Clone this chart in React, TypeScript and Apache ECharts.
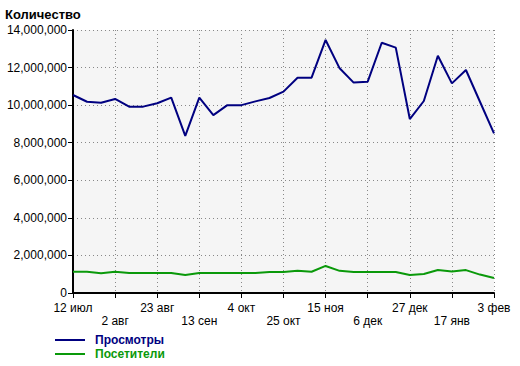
import React, { useEffect, useRef } from "react";
import * as echarts from "echarts";

const categories = [
  "12 июл", "19 июл", "26 июл", "2 авг", "9 авг", "16 авг", "23 авг", "30 авг",
  "6 сен", "13 сен", "20 сен", "27 сен", "4 окт", "11 окт", "18 окт", "25 окт",
  "1 ноя", "8 ноя", "15 ноя", "22 ноя", "29 ноя", "6 дек", "13 дек", "20 дек",
  "27 дек", "3 янв", "10 янв", "17 янв", "24 янв", "31 янв", "3 фев",
];

const views = [
  10540000, 10180000, 10130000, 10330000, 9920000, 9920000, 10100000, 10400000,
  8360000, 10400000, 9470000, 10000000, 10000000, 10200000, 10380000, 10720000,
  11460000, 11460000, 13470000, 11960000, 11200000, 11250000, 13320000, 13060000,
  9260000, 10220000, 12630000, 11160000, 11870000, 10180000, 8500000,
];

const visitors = [
  1130000, 1130000, 1050000, 1130000, 1070000, 1070000, 1070000, 1070000,
  960000, 1070000, 1070000, 1070000, 1070000, 1070000, 1120000, 1120000,
  1180000, 1130000, 1440000, 1180000, 1120000, 1120000, 1120000, 1120000,
  960000, 1010000, 1220000, 1150000, 1220000, 980000, 800000,
];

const yTicks = { min: 0, max: 14000000, interval: 2000000 };
const seriesNames = ["Просмотры", "Посетители"];
const title = "Количество";

const BLUE = "#000080";
const GREEN = "#0a990a";
const FONT = "Arial, 'Liberation Sans', sans-serif";

function legendFor(name: string, color: string, top: number) {
  return {
    orient: "horizontal",
    left: 55,
    top,
    padding: 0,
    itemWidth: 30,
    itemHeight: 2,
    icon: "rect",
    selectedMode: false,
    textStyle: { fontSize: 12, fontWeight: "bold", fontFamily: FONT, color, lineHeight: 12, padding: [0, 0, 0, 5] },
    data: [{ name }],
  };
}

export default function App() {
  const ref = useRef<HTMLDivElement>(null);
  useEffect(() => {
    if (!ref.current) return;
    const chart = echarts.init(ref.current, null, { renderer: "svg" });
    chart.setOption({
      animation: false,
      backgroundColor: "#ffffff",
      textStyle: { fontFamily: FONT },
      title: {
        text: title,
        left: 0,
        top: 3,
        textStyle: { fontSize: 13, fontWeight: "bold", color: "#000", fontFamily: FONT },
      },
      grid: {
        left: 73,
        right: 26,
        top: 30,
        bottom: 73,
        show: true,
        backgroundColor: "#f5f5f5",
        borderWidth: 0,
      },
      legend: [
        legendFor(seriesNames[0], BLUE, 334),
        legendFor(seriesNames[1], GREEN, 348),
      ],
      xAxis: {
        type: "category",
        data: categories,
        boundaryGap: false,
        axisLine: { lineStyle: { color: "#000", width: 2 } },
        axisTick: { show: true, interval: 2, length: 5, lineStyle: { color: "#000", width: 1 } },
        axisLabel: {
          interval: 2,
          color: "#000",
          fontSize: 12,
          fontFamily: FONT,
          margin: 8,
          lineHeight: 13,
          formatter: (v: string, i: number) => ((i / 3) % 2 === 1 ? "\n" + v : v),
        },
        splitLine: { show: true, interval: 2, lineStyle: { color: "#888", type: [1, 3], width: 1 } },
      },
      yAxis: {
        type: "value",
        min: yTicks.min,
        max: yTicks.max,
        interval: yTicks.interval,
        axisLine: { show: true, lineStyle: { color: "#000", width: 2 } },
        axisTick: { show: true, length: 5, lineStyle: { color: "#000", width: 1 } },
        axisLabel: {
          color: "#000",
          fontSize: 12,
          fontFamily: FONT,
          margin: 6,
          formatter: (v: number) => v.toLocaleString("en-US"),
        },
        splitLine: { show: true, lineStyle: { color: "#888", type: [1, 3], width: 1 } },
      },
      series: [
        {
          name: seriesNames[0],
          type: "line",
          data: views,
          symbol: "none",
          lineStyle: { color: BLUE, width: 2 },
          itemStyle: { color: BLUE },
        },
        {
          name: seriesNames[1],
          type: "line",
          data: visitors,
          symbol: "none",
          lineStyle: { color: GREEN, width: 2 },
          itemStyle: { color: GREEN },
        },
      ],
    });
    return () => chart.dispose();
  }, []);
  return (
    <div
      ref={ref}
      style={{ position: "absolute", left: 0, top: 0, width: 520, height: 366 }}
    />
  );
}
